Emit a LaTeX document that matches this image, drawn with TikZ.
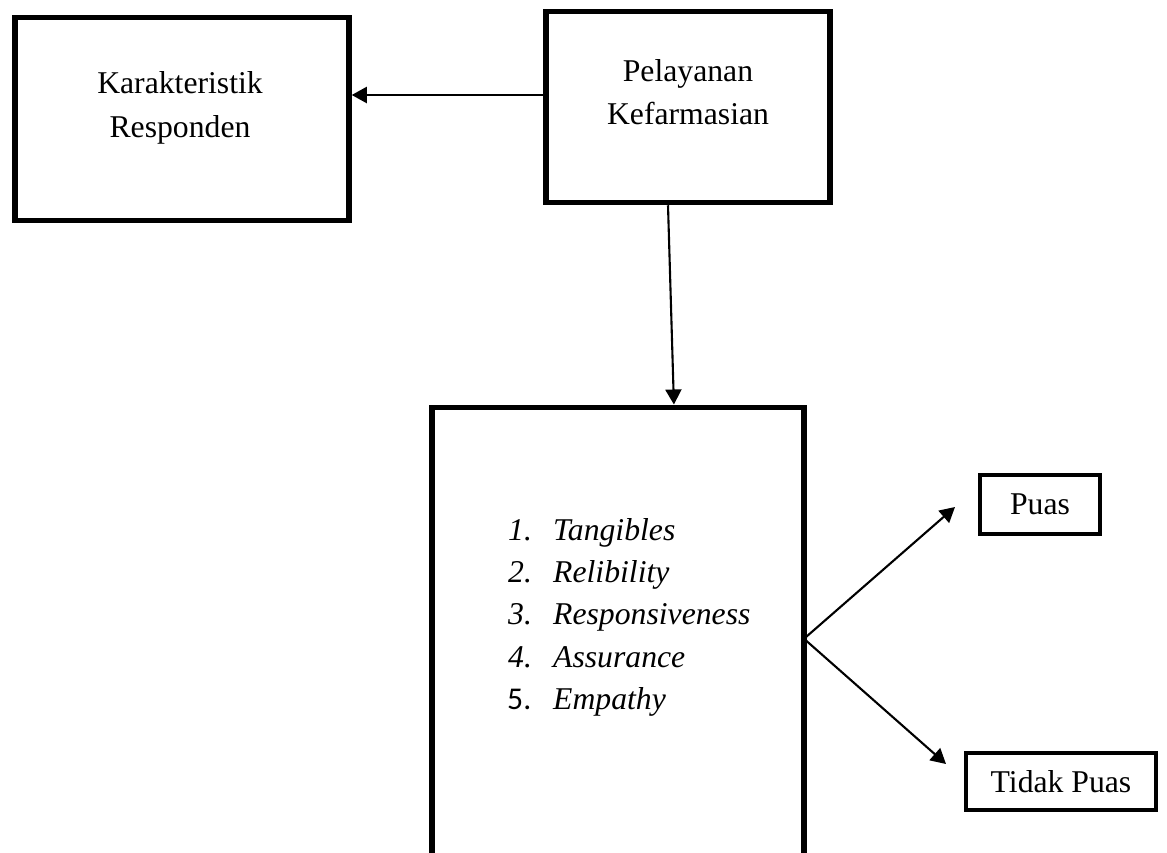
\documentclass[tikz,border=0pt]{standalone}
\usepackage{fontspec}
\setmainfont{Liberation Serif}
\newfontfamily\numfont{Carlito}
\usetikzlibrary{arrows.meta}
\tikzset{
  box/.style={draw, line width=5.5pt, rectangle, inner sep=0pt},
  sbox/.style={draw, line width=4.8pt, rectangle, inner sep=0pt, font=\fontsize{31.7}{40}\selectfont},
  txt/.style={inner sep=0pt, anchor=base, font=\fontsize{31.7}{40}\selectfont},
  num/.style={inner sep=0pt, anchor=base west, font=\fontsize{31.7}{40}\selectfont\itshape},
  item/.style={inner sep=0pt, anchor=base west, font=\fontsize{31.7}{40}\selectfont\itshape},
  arr/.style={line width=2.1pt, -{Triangle[length=15pt,width=16pt]}},
}
\begin{document}
\begin{tikzpicture}[x=1pt,y=-1pt]
\useasboundingbox (0,0) rectangle (1167,852);
% boxes
\node[box, minimum width=334pt, minimum height=203pt] (kar) at (182,119) {};
\node[box, minimum width=284pt, minimum height=191pt] (pel) at (688,107) {};
\node[draw=none, outer sep=0pt, inner sep=0pt, minimum width=372pt, minimum height=462.5pt] (list) at (618,638.75) {};
\draw[line width=5.5pt, line join=miter] (list.south west) -- (list.north west) -- (list.north east) -- (list.south east);
\node[sbox, minimum width=120pt, minimum height=59pt] (puas) at (1040,504.5) {Puas};
\node[sbox, minimum width=190pt, minimum height=57pt] (tidak) at (1061,781.5) {Tidak Puas};
% texts
\node[txt] (k1) at (180,93) {Karakteristik};
\node[txt] (k2) at (180,137) {Responden};
\node[txt] (p1) at (688,81) {Pelayanan};
\node[txt] (p2) at (688,124) {Kefarmasian};
\node[num] (n1) at (508,540) {1.};
\node[num] (n2) at (508,582) {2.};
\node[num] (n3) at (508,624) {3.};
\node[num] (n4) at (508,667) {4.};
\node[inner sep=0pt, anchor=base west, font=\fontsize{31.7}{40}\selectfont\numfont] (n5) at (507,709) {5.};
\node[item] (i1) at (553,540) {Tangibles};
\node[item] (i2) at (553,582) {Relibility};
\node[item] (i3) at (553,624) {Responsiveness};
\node[item] (i4) at (553,667) {Assurance};
\node[item] (i5) at (553,709) {Empathy};
% connectors
\coordinate (tipP) at (955,507);
\coordinate (tipT) at (946,764);
\draw[arr] (pel.west |- 0,95) -- (kar.east |- 0,95);
\draw[arr, shorten >=3pt] ([xshift=-20pt]pel.south) -- ([xshift=56pt]list.north);
\draw[arr] (list.east) -- (tipP);
\draw[arr] (list.east) -- (tipT);
\end{tikzpicture}
\end{document}
